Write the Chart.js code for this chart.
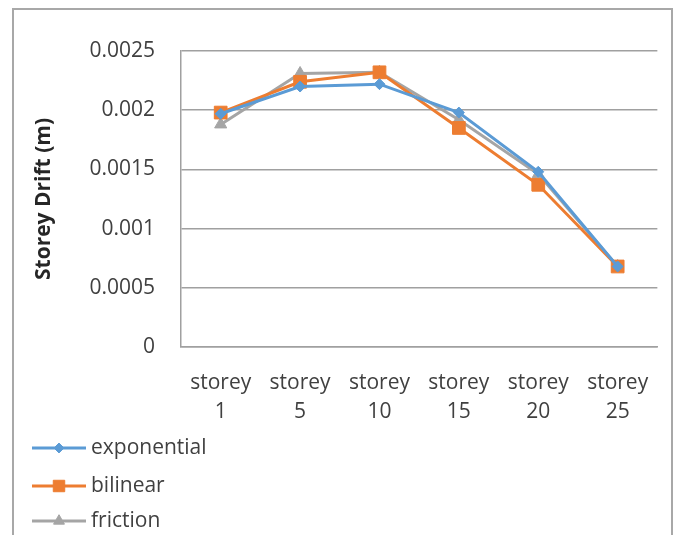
<!DOCTYPE html>
<html lang="en">
<head>
  <meta charset="UTF-8" />
  <title>Storey Drift</title>
  <script src="https://cdn.jsdelivr.net/npm/chart.js"></script>
  <style>
    body {
      margin: 0;
      background: #fff;
    }
    .frame {
      position: absolute;
      left: 12px;
      top: 8px;
      width: 657px;
      height: 540px;
      border: 2px solid #a8a8a8;
      background: #fff;
    }
    .frame canvas {
      display: block;
    }
  </style>
</head>
<body>
  <div class="frame">
    <canvas id="driftChart" width="657" height="525"></canvas>
  </div>
  <script>
    const categories = [["storey", "1"], ["storey", "5"], ["storey", "10"], ["storey", "15"], ["storey", "20"], ["storey", "25"]];
    const exponential = [0.00197, 0.00220, 0.00222, 0.00198, 0.00148, 0.00068];
    const bilinear = [0.00198, 0.00224, 0.00232, 0.00185, 0.00137, 0.00068];
    const friction = [0.00188, 0.00231, 0.00232, 0.00192, 0.00146, 0.00068];
    const yTicks = [0, 0.0005, 0.001, 0.0015, 0.002, 0.0025];

    const fontFamily = "'Open Sans', sans-serif";
    const textColor = "#404040";

    // legend stacked bottom-left, like the Excel one
    const stackedLegend = {
      id: "stackedLegend",
      afterDraw(chart) {
        const ctx = chart.ctx;
        const rows = [438, 476, 511];
        ctx.save();
        chart.data.datasets.forEach((ds, i) => {
          const y = rows[i];
          ctx.strokeStyle = ds.borderColor;
          ctx.lineWidth = ds.borderWidth;
          ctx.beginPath();
          ctx.moveTo(18, y);
          ctx.lineTo(72, y);
          ctx.stroke();
          ctx.fillStyle = ds.backgroundColor;
          ctx.strokeStyle = ds.borderColor;
          ctx.lineWidth = 1;
          Chart.helpers.drawPoint(ctx, { pointStyle: ds.pointStyle, radius: ds.pointRadius * 0.9, rotation: 0, borderWidth: 1 }, 45, y);
          ctx.fillStyle = textColor;
          ctx.font = "21px " + fontFamily;
          ctx.textBaseline = "middle";
          ctx.fillText(ds.label, 77, y);
        });
        ctx.restore();
      }
    };

    const makeSet = (label, data, color, style, radius) => ({
      label,
      data,
      borderColor: color,
      backgroundColor: color,
      borderWidth: 3,
      pointStyle: style,
      pointRadius: radius,
      pointHoverRadius: radius,
      pointBorderWidth: 1,
      tension: 0
    });

    new Chart(document.getElementById("driftChart"), {
      type: "line",
      data: {
        labels: categories,
        datasets: [
          makeSet("exponential", exponential, "#5b9bd5", "rectRot", 5.5),
          makeSet("bilinear", bilinear, "#ed7d31", "rect", 9),
          makeSet("friction", friction, "#a5a5a5", "triangle", 7)
        ]
      },
      options: {
        responsive: false,
        animation: false,
        layout: { padding: { left: 0, right: 9, top: 41, bottom: 108 } },
        plugins: {
          legend: { display: false },
          tooltip: { enabled: false }
        },
        scales: {
          x: {
            offset: true,
            grid: { display: false, drawTicks: false },
            border: { display: true, color: "#a0a0a0", width: 1.5 },
            ticks: {
              color: textColor,
              padding: 22,
              maxRotation: 0,
              autoSkip: false,
              font: { family: fontFamily, size: 21, lineHeight: 1.38 }
            },
            afterFit(scale) { scale.height = 80; }
          },
          y: {
            min: 0,
            max: 0.0025,
            afterBuildTicks(scale) { scale.ticks = yTicks.map(v => ({ value: v })); },
            grid: { color: "#a0a0a0", lineWidth: 1.5, drawTicks: false },
            border: { display: true, color: "#a0a0a0", width: 1.5 },
            ticks: {
              color: textColor,
              padding: 26,
              font: { family: fontFamily, size: 21 },
              callback: v => String(+v.toFixed(4))
            },
            title: {
              display: true,
              text: "Storey Drift (m)",
              color: "#262626",
              padding: { top: 17 },
              font: { family: fontFamily, size: 21, weight: "bold" }
            },
            afterFit(scale) { scale.width = 167; }
          }
        }
      },
      plugins: [stackedLegend]
    });
  </script>
</body>
</html>
